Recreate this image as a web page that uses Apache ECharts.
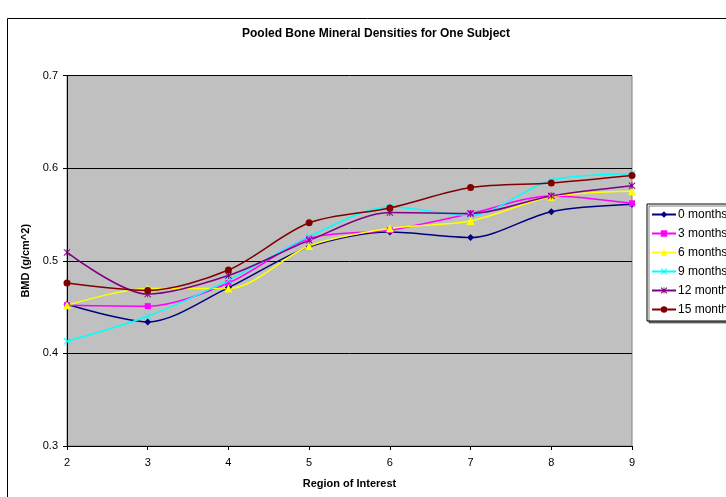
<!DOCTYPE html>
<html><head><meta charset="utf-8">
<script src="https://cdn.jsdelivr.net/npm/echarts@6/dist/echarts.min.js"></script>
<style>html,body{margin:0;padding:0;background:#fff}#c{width:726px;height:497px}</style>
</head><body><div id="c"></div>
<script>
const regions = [2, 3, 4, 5, 6, 7, 8, 9];
const seriesNames = ['0 months', '3 months', '6 months', '9 months', '12 months', '15 months'];
const m0  = [0.453, 0.434, 0.471, 0.515, 0.531, 0.525, 0.553, 0.561];
const m3  = [0.452, 0.451, 0.476, 0.524, 0.533, 0.551, 0.570, 0.562];
const m6  = [0.452, 0.470, 0.470, 0.516, 0.535, 0.543, 0.569, 0.575];
const m9  = [0.413, 0.440, 0.479, 0.526, 0.558, 0.549, 0.587, 0.594];
const m12 = [0.509, 0.464, 0.484, 0.522, 0.552, 0.551, 0.570, 0.581];
const m15 = [0.476, 0.468, 0.490, 0.541, 0.557, 0.579, 0.584, 0.592];
const yTicks = [0.3, 0.4, 0.5, 0.6, 0.7];

const values = [m0, m3, m6, m9, m12, m15];
const colors = ['#000080', '#FF00FF', '#FFFF00', '#00FFFF', '#800080', '#800000'];
const xShape = 'path://M0,1L1,0L5,4L9,0L10,1L6,5L10,9L9,10L5,6L1,10L0,9L4,5Z';
const starShape = 'path://M0,1L1,0L5,4L9,0L10,1L6,5L10,9L9,10L5,6L1,10L0,9L4,5ZM4.4,0L5.6,0L5.6,10L4.4,10Z';
const symbols = ['diamond', 'rect', 'triangle', xShape, starShape, 'circle'];
const sizes = [7, 6, 8, 7, 7, 7];
const font = 'Liberation Sans, Arial, sans-serif';

const chart = echarts.init(document.getElementById('c'), null, {renderer: 'canvas'});
chart.setOption({
  animation: false,
  backgroundColor: '#fff',
  graphic: [
    {type: 'rect', left: 7, top: 18, z: -10, silent: true,
     shape: {width: 800, height: 520}, style: {fill: '#fff', stroke: '#000', lineWidth: 1}},
    {type: 'text', x: 376, y: 34, z: 10,
     style: {text: 'Pooled Bone Mineral Densities for One Subject', font: 'bold 12px ' + font,
             fill: '#000', align: 'center', verticalAlign: 'middle'}}
  ],
  grid: {left: 67, top: 75.5, right: 94, bottom: 51, show: true,
         backgroundColor: '#C0C0C0', borderColor: '#808080', borderWidth: 1},
  legend: {
    orient: 'vertical', left: 647, top: 204,
    padding: [4, 6, 5, 4],
    itemWidth: 24, itemHeight: 8, itemGap: 6,
    borderColor: '#000', borderWidth: 1, backgroundColor: '#fff',
    shadowColor: 'rgba(0,0,0,0.5)', shadowOffsetX: 2, shadowOffsetY: 2, shadowBlur: 0,
    textStyle: {fontFamily: font, fontSize: 12, color: '#000', padding: [0, 0, 0, -3], lineHeight: 13},
    data: seriesNames
  },
  xAxis: {
    type: 'value', min: 2, max: 9, interval: 1,
    name: 'Region of Interest', nameLocation: 'middle', nameGap: 32,
    nameTextStyle: {fontFamily: font, fontSize: 11, fontWeight: 'bold', color: '#000'},
    axisLine: {show: true, onZero: false, lineStyle: {color: '#000', width: 1}},
    axisTick: {show: true, length: 4, lineStyle: {color: '#000'}},
    axisLabel: {fontFamily: font, fontSize: 11, color: '#000', margin: 11},
    splitLine: {show: false}
  },
  yAxis: {
    type: 'value', min: 0.3, max: 0.7, interval: 0.1,
    name: 'BMD (g/cm^2)', nameLocation: 'middle', nameGap: 33, nameRotate: 90,
    nameTextStyle: {fontFamily: font, fontSize: 11, fontWeight: 'bold', color: '#000'},
    axisLine: {show: true, lineStyle: {color: '#000', width: 1}},
    axisTick: {show: true, length: 4, lineStyle: {color: '#000'}},
    axisLabel: {fontFamily: font, fontSize: 11, color: '#000', margin: 9,
                formatter: v => yTicks.reduce((a, b) => Math.abs(b - v) < Math.abs(a - v) ? b : a).toFixed(1)},
    splitLine: {show: true, lineStyle: {color: '#000', width: 1}}
  },
  series: seriesNames.map((n, i) => ({
    name: n, type: 'line', smooth: 0.3,
    data: regions.map((r, j) => [r, values[i][j]]),
    symbol: symbols[i], symbolSize: sizes[i], showSymbol: true,
    lineStyle: {color: colors[i], width: 1.5},
    itemStyle: {color: colors[i]},
    emphasis: {disabled: true}
  }))
});
</script></body></html>
